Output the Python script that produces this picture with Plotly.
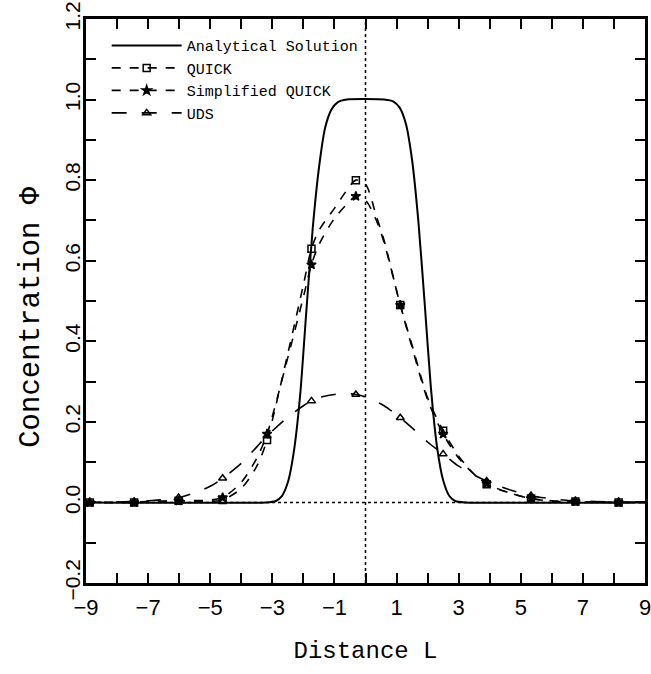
import plotly.graph_objects as go

# ---------------- data ----------------
analytic_x = [-9, -3.2, -2.9, -2.7, -2.5, -2.3, -2.1, -1.9, -1.7, -1.5, -1.3, -1.1, -0.9, -0.6,
              0.6, 0.9, 1.1, 1.3, 1.5, 1.7, 1.9, 2.1, 2.3, 2.5, 2.7, 2.9, 3.2, 9]
analytic_y = [0, 0, 0.003, 0.015, 0.05, 0.13, 0.27, 0.48, 0.68, 0.83, 0.93, 0.975, 0.993, 1.0,
              1.0, 0.995, 0.98, 0.94, 0.85, 0.70, 0.50, 0.29, 0.14, 0.055, 0.016, 0.003, 0, 0]

line_x = [-9, -8, -7, -6, -5, -4.6, -4, -3.5, -3.17, -2.5, -2, -1.74, -1.5, -1, -0.6, -0.31,
          0, 0.35, 0.6, 1.12, 1.5, 2, 2.5, 3, 3.5, 3.9, 4.5, 5.3, 6, 6.76, 8, 9]
quick_line = [0, 0, 0.001, 0.004, 0.003, 0.006, 0.035, 0.09, 0.155, 0.37, 0.54, 0.63, 0.675, 0.73,
              0.775, 0.80, 0.79, 0.71, 0.65, 0.49, 0.39, 0.26, 0.178, 0.115, 0.07, 0.045, 0.027,
              0.01, 0.003, 0.002, 0, 0]
squick_line = [0, 0, 0.002, 0.004, 0.006, 0.012, 0.05, 0.11, 0.17, 0.36, 0.51, 0.59, 0.64, 0.705,
               0.74, 0.76, 0.75, 0.70, 0.645, 0.49, 0.385, 0.255, 0.17, 0.11, 0.07, 0.047, 0.027,
               0.01, 0.004, 0.002, 0, 0]
uds_line = [0, 0.001, 0.004, 0.012, 0.04, 0.06, 0.097, 0.138, 0.165, 0.212, 0.24, 0.252, 0.26,
            0.268, 0.27, 0.268, 0.262, 0.25, 0.24, 0.21, 0.185, 0.15, 0.12, 0.09, 0.068, 0.053,
            0.035, 0.017, 0.009, 0.004, 0.001, 0]

marker_x = [-8.88, -7.45, -6.02, -4.6, -3.17, -1.74, -0.31, 1.12, 2.5, 3.9, 5.33, 6.76, 8.15]
quick_m = [0, 0, 0.004, 0.006, 0.155, 0.63, 0.80, 0.49, 0.178, 0.045, 0.01, 0.002, 0]
squick_m = [0, 0, 0.004, 0.012, 0.17, 0.59, 0.76, 0.49, 0.17, 0.047, 0.01, 0.002, 0]
uds_m = [0, 0.002, 0.012, 0.06, 0.165, 0.252, 0.268, 0.21, 0.12, 0.053, 0.017, 0.004, 0.001]

x_ticks = list(range(-9, 10))
x_ticktext = [str(v).replace("-", "\u2212") if v % 2 else "" for v in x_ticks]
y_ticks = [round(-0.2 + 0.1 * i, 1) for i in range(15)]
y_ticktext = [("%.1f" % v).replace("-", "\u2212") if round(v * 10) % 2 == 0 else "" for v in y_ticks]

series = [
    ("QUICK", quick_line, quick_m, "square-open", "dash"),
    ("Simplified QUICK", squick_line, squick_m, "star", "dash"),
    ("UDS", uds_line, uds_m, "triangle-up-open", "longdash"),
]

MONO = "Liberation Mono, Courier New, monospace"
SANS = "Liberation Sans, Arial, sans-serif"

fig = go.Figure()

fig.add_trace(go.Scatter(x=analytic_x, y=analytic_y, mode="lines", name="Analytical Solution",
                         line=dict(color="black", width=2, shape="spline", smoothing=0.6)))

for name, yl, ym, sym, dash in series:
    fig.add_trace(go.Scatter(x=line_x, y=yl, mode="lines", showlegend=False, legendgroup=name,
                             line=dict(color="black", width=1.6, dash=dash, shape="spline", smoothing=0.8)))
    fig.add_trace(go.Scatter(x=marker_x, y=ym, mode="markers", showlegend=False, legendgroup=name,
                             marker=dict(symbol=sym, size=7, color="black",
                                         line=dict(color="black", width=1.5))))
    fig.add_trace(go.Scatter(x=[None], y=[None], mode="lines+markers", name=name, legendgroup=name,
                             line=dict(color="black", width=1.6, dash=dash),
                             marker=dict(symbol=sym, size=7, color="black",
                                         line=dict(color="black", width=1.5))))

# reference dotted lines at x = 0 and y = 0
fig.add_shape(type="line", xref="x", yref="paper", x0=0, x1=0, y0=0, y1=1,
              line=dict(color="black", width=1.5, dash="dot"), layer="below")
fig.add_shape(type="line", xref="paper", yref="y", x0=0, x1=1, y0=0, y1=0,
              line=dict(color="black", width=1.5, dash="dot"), layer="below")

# y-axis title as a rotated annotation (placed like the reference)
fig.add_annotation(text="Concentration \u03a6", xref="paper", yref="paper", x=-0.0966, y=0.472,
                   xanchor="center", yanchor="middle", textangle=-90, showarrow=False,
                   font=dict(family=MONO, size=29, color="black"))

fig.update_layout(
    width=651, height=674,
    margin=dict(l=86, r=6, t=19, b=91, autoexpand=False),
    plot_bgcolor="white", paper_bgcolor="white",
    showlegend=True,
    legend=dict(x=0.037, y=0.982, xanchor="left", yanchor="top", bgcolor="rgba(0,0,0,0)",
                font=dict(family=MONO, size=15, color="black"), tracegroupgap=0, itemwidth=70),
    xaxis=dict(range=[-9, 9], tickvals=x_ticks, ticktext=x_ticktext, ticks="inside", ticklen=10,
               tickwidth=2, tickcolor="black", showline=True, linewidth=3, linecolor="black",
               mirror="allticks", showgrid=False, zeroline=False, automargin=False,
               ticklabelstandoff=3, ticklabeloverflow="allow",
               tickfont=dict(family=SANS, size=22, color="black"),
               title=dict(text="Distance L", font=dict(family=MONO, size=24, color="black"), standoff=22)),
    yaxis=dict(range=[-0.2, 1.2], tickvals=y_ticks, ticktext=y_ticktext, ticks="inside", ticklen=10,
               tickwidth=2, tickcolor="black", showline=True, linewidth=3, linecolor="black",
               mirror="allticks", showgrid=False, zeroline=False, tickangle=-90, automargin=False,
               ticklabelstandoff=-5, ticklabeloverflow="allow",
               tickfont=dict(family=SANS, size=21, color="black")),
)

fig.write_html("out.html", config={"displayModeBar": False},
               post_script="document.body.style.margin='0';")
